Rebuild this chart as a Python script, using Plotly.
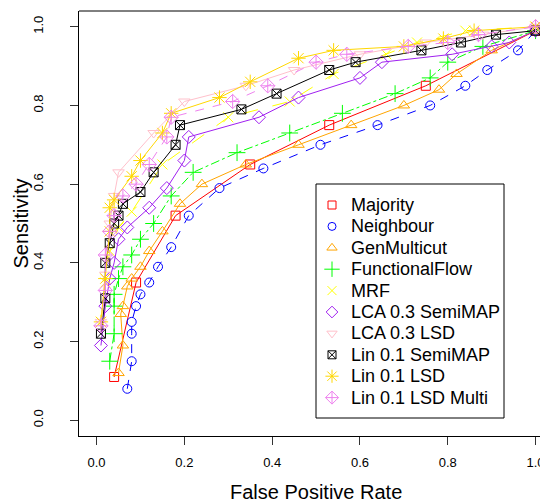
import plotly.graph_objects as go

# ---------------- data ----------------
names = ["Majority", "Neighbour", "GenMulticut", "FunctionalFlow", "MRF",
         "LCA 0.3 SemiMAP", "LCA 0.3 LSD", "Lin 0.1 SemiMAP", "Lin 0.1 LSD",
         "Lin 0.1 LSD Multi"]

majority_x = [0.04, 0.09, 0.18, 0.35, 0.53, 0.75, 1.0]
majority_y = [0.11, 0.35, 0.52, 0.65, 0.75, 0.85, 0.99]

neighbour_x = [0.07, 0.08, 0.08, 0.08, 0.09, 0.10, 0.12, 0.14, 0.17, 0.21, 0.28,
               0.38, 0.51, 0.64, 0.76, 0.84, 0.89, 0.96, 1.0]
neighbour_y = [0.08, 0.15, 0.22, 0.25, 0.29, 0.32, 0.35, 0.39, 0.44, 0.52, 0.59,
               0.64, 0.70, 0.75, 0.80, 0.85, 0.89, 0.94, 0.99]

genmulticut_x = [0.05, 0.06, 0.055, 0.06, 0.07, 0.08, 0.10, 0.12, 0.15, 0.19, 0.24,
                 0.34, 0.46, 0.58, 0.70, 0.78, 0.82, 0.90, 1.0]
genmulticut_y = [0.12, 0.19, 0.27, 0.29, 0.34, 0.36, 0.39, 0.43, 0.48, 0.55, 0.60,
                 0.65, 0.70, 0.75, 0.80, 0.84, 0.88, 0.94, 0.99]

funcflow_x = [0.03, 0.04, 0.04, 0.04, 0.05, 0.06, 0.08, 0.10, 0.13, 0.17, 0.22,
              0.32, 0.44, 0.56, 0.68, 0.76, 0.80, 0.88, 1.0]
funcflow_y = [0.15, 0.22, 0.29, 0.32, 0.36, 0.39, 0.42, 0.46, 0.50, 0.57, 0.63,
              0.68, 0.73, 0.78, 0.83, 0.87, 0.91, 0.95, 0.99]

mrf_x = [0.01, 0.02, 0.03, 0.05, 0.08, 0.15, 0.30, 0.44, 0.54, 0.66, 0.73, 0.84, 1.0]
mrf_y = [0.25, 0.35, 0.43, 0.49, 0.53, 0.65, 0.77, 0.81, 0.88, 0.93, 0.96, 0.99, 1.0]

lca_semi_x = [0.01, 0.02, 0.03, 0.04, 0.05, 0.07, 0.12, 0.16, 0.20, 0.21, 0.37,
              0.46, 0.60, 0.65, 0.81, 0.90, 0.94, 1.0]
lca_semi_y = [0.19, 0.29, 0.36, 0.40, 0.46, 0.49, 0.54, 0.59, 0.66, 0.72, 0.77,
              0.82, 0.87, 0.91, 0.93, 0.95, 0.96, 0.99]

lca_lsd_x = [0.01, 0.02, 0.03, 0.04, 0.05, 0.13, 0.20, 0.34, 0.45, 0.60, 0.75, 0.88, 1.0]
lca_lsd_y = [0.25, 0.37, 0.50, 0.57, 0.63, 0.73, 0.81, 0.85, 0.89, 0.93, 0.96, 0.98, 1.0]

lin_semi_x = [0.01, 0.02, 0.02, 0.03, 0.04, 0.05, 0.06, 0.10, 0.13, 0.18, 0.19,
              0.33, 0.41, 0.53, 0.59, 0.74, 0.83, 0.91, 1.0]
lin_semi_y = [0.22, 0.31, 0.40, 0.45, 0.50, 0.52, 0.55, 0.58, 0.63, 0.70, 0.75,
              0.79, 0.83, 0.89, 0.91, 0.94, 0.96, 0.98, 0.99]

lin_lsd_x = [0.01, 0.02, 0.03, 0.03, 0.04, 0.08, 0.10, 0.15, 0.17, 0.28, 0.35,
             0.46, 0.54, 0.70, 0.79, 0.86, 1.0]
lin_lsd_y = [0.25, 0.36, 0.48, 0.54, 0.56, 0.62, 0.66, 0.73, 0.78, 0.82, 0.86,
             0.92, 0.94, 0.95, 0.97, 0.99, 1.0]

lin_multi_x = [0.01, 0.02, 0.02, 0.03, 0.04, 0.06, 0.09, 0.12, 0.16, 0.17, 0.31,
               0.39, 0.50, 0.57, 0.71, 0.80, 0.87, 1.0]
lin_multi_y = [0.24, 0.33, 0.42, 0.48, 0.52, 0.57, 0.60, 0.65, 0.72, 0.77, 0.81,
               0.85, 0.91, 0.93, 0.95, 0.96, 0.98, 1.0]

xs = [majority_x, neighbour_x, genmulticut_x, funcflow_x, mrf_x,
      lca_semi_x, lca_lsd_x, lin_semi_x, lin_lsd_x, lin_multi_x]
ys = [majority_y, neighbour_y, genmulticut_y, funcflow_y, mrf_y,
      lca_semi_y, lca_lsd_y, lin_semi_y, lin_lsd_y, lin_multi_y]

x_ticks = [0.0, 0.2, 0.4, 0.6, 0.8, 1.0]
y_ticks = [0.0, 0.2, 0.4, 0.6, 0.8, 1.0]
tick_text = ["0.0", "0.2", "0.4", "0.6", "0.8", "1.0"]

# ---------------- styles ----------------
colors = ["#FF0000", "#0000FF", "#FFA500", "#00FF00", "#FFFF00",
          "#A020F0", "#FFC0CB", "#000000", "#FFD700", "#EE82EE"]
symbols = ["square-open", "circle-open", "triangle-up-open", "cross-thin-open",
           "x-thin-open", "diamond-open", "triangle-down-open", "square-x-open",
           "asterisk-open", "diamond-cross-open"]
sizes = [9, 9, 10, 12, 10, 10, 10, 9, 12, 11]
dashes = ["solid", "dash", "solid", "dashdot", "longdash",
          "solid", "solid", "solid", "solid", "dash"]

FONT = "Liberation Sans, Arial, Helvetica, sans-serif"

# The html page body has an 8px margin, so the figure is drawn 8px right/down
# of the window corner. Geometry below is in window pixels.
OFF = 8
WIN_W, WIN_H = 548, 502
PL, PT, PR, PB = 79, 11, 548, 436        # plot area in window pixels
W, H = WIN_W - OFF, WIN_H - OFF
PW, PH = PR - PL, PB - PT


def px(wx):
    return (wx - PL) / PW


def py(wy):
    return (PB - wy) / PH


fig = go.Figure()
for i, nm in enumerate(names):
    fig.add_trace(go.Scatter(
        x=xs[i], y=ys[i], mode="lines+markers", name=nm, showlegend=False,
        line=dict(color=colors[i], width=1, dash=dashes[i]),
        marker=dict(symbol=symbols[i], size=sizes[i], color=colors[i],
                    line=dict(color=colors[i], width=1)),
    ))

# ---- manual legend (R style: points only), on a pixel overlay axis ----
leg_left, leg_top, leg_right, leg_bottom = 316, 184, 504, 418
row0, row_step = 205, 21.4
sym_x, text_x = 332, 349
leg_rows = [row0 + row_step * i for i in range(len(names))]
for i, nm in enumerate(names):
    fig.add_trace(go.Scatter(
        x=[sym_x], y=[leg_rows[i]], xaxis="x2", yaxis="y2", mode="markers",
        showlegend=False, hoverinfo="skip",
        marker=dict(symbol=symbols[i], size=sizes[i] - 1, color=colors[i],
                    line=dict(color=colors[i], width=1)),
    ))

annotations = [
    dict(text=nm, xref="paper", yref="paper", x=px(text_x), y=py(leg_rows[i]),
         xanchor="left", yanchor="middle", showarrow=False,
         font=dict(size=18, family=FONT, color="black"))
    for i, nm in enumerate(names)
]
annotations += [
    dict(text="False Positive Rate", xref="paper", yref="paper",
         x=px(316), y=py(492), xanchor="center", yanchor="middle",
         showarrow=False, font=dict(size=20, family=FONT)),
    dict(text="Sensitivity", xref="paper", yref="paper",
         x=px(20), y=py(223.5), xanchor="center", yanchor="middle",
         textangle=-90, showarrow=False, font=dict(size=20, family=FONT)),
]

fig.update_layout(
    width=W, height=H,
    margin=dict(l=PL - OFF, r=0, t=PT - OFF, b=H - (PB - OFF)),
    paper_bgcolor="white", plot_bgcolor="white",
    font=dict(family=FONT, color="black"),
    showlegend=False,
    xaxis=dict(
        range=[-0.04, -0.04 + PW / 439], tickmode="array", tickvals=x_ticks,
        ticktext=tick_text, ticks="outside", ticklen=8, tickcolor="#333",
        showgrid=False, zeroline=False, showline=True, linecolor="black",
        linewidth=1, tickfont=dict(size=13, family=FONT), ticklabelstandoff=6,
        automargin=False,
    ),
    yaxis=dict(
        range=[-0.04, 1.04], tickmode="array", tickvals=y_ticks,
        ticktext=tick_text, ticks="outside", ticklen=8, tickcolor="#333",
        showgrid=False, zeroline=False, showline=True, linecolor="black",
        linewidth=1, tickfont=dict(size=13, family=FONT), tickangle=-90,
        ticklabelstandoff=22, automargin=False,
    ),
    xaxis2=dict(range=[PL, PR], overlaying="x", visible=False, fixedrange=True),
    yaxis2=dict(range=[PB, PT], overlaying="y", visible=False, fixedrange=True),
    shapes=[
        dict(type="line", xref="paper", yref="paper", x0=0, x1=1, y0=1, y1=1,
             line=dict(color="black", width=1)),
        dict(type="rect", xref="paper", yref="paper", x0=px(leg_left),
             x1=px(leg_right), y0=py(leg_top), y1=py(leg_bottom),
             line=dict(color="black", width=1), fillcolor="white", layer="below"),
    ],
    annotations=annotations,
)

fig.write_html("out.html")
